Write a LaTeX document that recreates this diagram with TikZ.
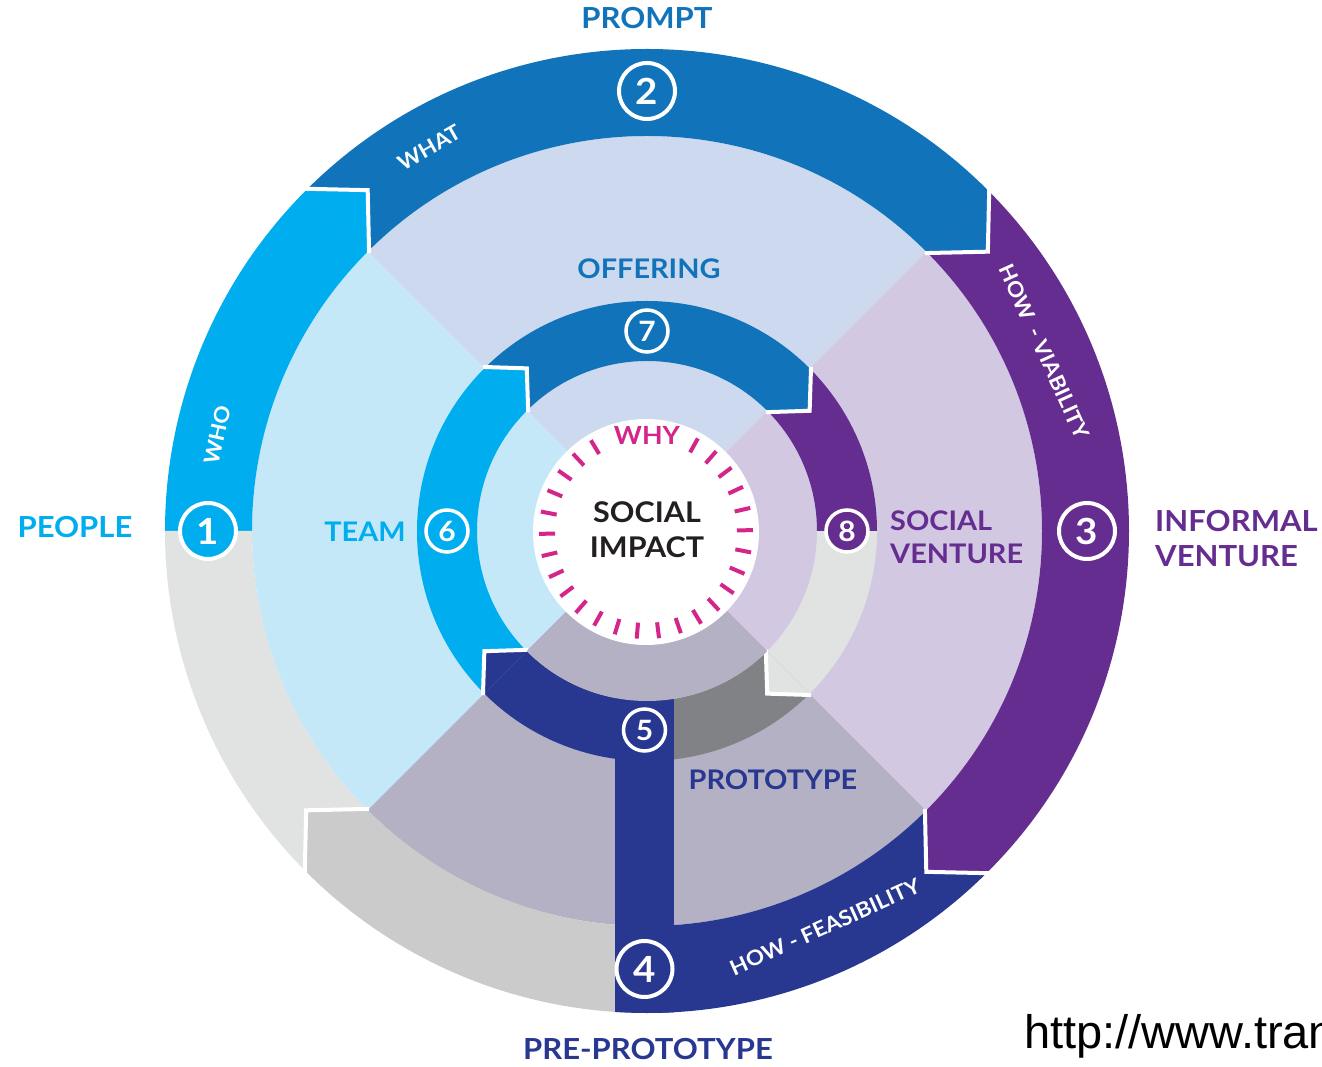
\documentclass[tikz,border=0pt]{standalone}
\usepackage{fontspec}
\usetikzlibrary{calc}
\setmainfont{Lato}[FakeStretch=1.07]
\newfontfamily\urlfont{Liberation Sans}
\definecolor{ccyan}{HTML}{00AEEF}
\definecolor{cblue}{HTML}{1174BB}
\definecolor{cpurple}{HTML}{662D91}
\definecolor{cnavy}{HTML}{283891}
\definecolor{cgreyL}{HTML}{E1E3E3}
\definecolor{cgreyD}{HTML}{CBCBCB}
\definecolor{cgreyM}{HTML}{808285}
\definecolor{qleft}{HTML}{C5E8F8}
\definecolor{qtop}{HTML}{CDD9EE}
\definecolor{qright}{HTML}{D2C8E2}
\definecolor{qbot}{HTML}{B3B1C3}
\definecolor{cmag}{HTML}{D4268A}
\definecolor{ctext}{HTML}{231F20}
\newcommand\ringsec[5]{\fill[#1] (#2:#5) arc[start angle=#2,end angle=#3,radius=#5] -- (#3:#4) arc[start angle=#3,end angle=#2,radius=#4] -- cycle;}
\newcommand\quadsec[4]{\fill[#1] (0,0) -- (#2:#4) arc[start angle=#2,end angle=#3,radius=#4] -- cycle;}
\tikzset{
  bignum/.style={circle, draw=white, line width=4pt, minimum size=56pt, inner sep=0pt, text=white, font=\bfseries\fontsize{36}{36}\selectfont},
  smallnum/.style={circle, draw=white, line width=3.5pt, minimum size=42pt, inner sep=0pt, text=white, font=\bfseries\fontsize{28}{28}\selectfont},
  biglbl/.style={font=\bfseries\fontsize{29}{35}\selectfont, inner sep=0pt},
  midlbl/.style={font=\bfseries\fontsize{27}{33}\selectfont, inner sep=0pt},
  ringlbl/.style={text=white, font=\bfseries\fontsize{21}{21}\selectfont, inner sep=0pt},
  stepline/.style={white, line width=4pt},
  tick/.style={cmag, line width=4pt},
}
\begin{document}
\begin{tikzpicture}[x=1pt,y=1pt]
\useasboundingbox (-647,-536) rectangle (675,531);
% quadrant fills
\quadsec{qtop}{45}{135}{395pt}
\quadsec{qleft}{135}{225}{395pt}
\quadsec{qbot}{225}{315}{395pt}
\quadsec{qright}{-45}{45}{395pt}
% outer ring
\ringsec{cblue}{45}{135}{395pt}{482pt}
\ringsec{ccyan}{135}{180}{395pt}{482pt}
\ringsec{cgreyL}{180}{225}{395pt}{482pt}
\ringsec{cgreyD}{225}{270}{395pt}{482pt}
\ringsec{cnavy}{270}{315}{395pt}{482pt}
\ringsec{cpurple}{-45}{45}{395pt}{482pt}
% outer caps
\fill[ccyan] (135:482pt) -- (-279.31,340.83) coordinate (oq1) -- (135:395pt) -- cycle;
\fill[cblue] (45:482pt) -- (340.83,279.31) coordinate (oq2) -- (45:395pt) -- cycle;
\fill[cpurple] (-45:482pt) -- (279.31,-340.83) coordinate (oq3) -- (-45:395pt) -- cycle;
\fill[cgreyD] (225:482pt) -- (-340.83,-279.31) coordinate (oq4) -- (225:395pt) -- cycle;
\draw[stepline] (135:484pt) -- (oq1) -- (135:393pt);
\draw[stepline] (45:484pt) -- (oq2) -- (45:393pt);
\draw[stepline] (-45:484pt) -- (oq3) -- (-45:393pt);
\draw[stepline] (225:484pt) -- (oq4) -- (225:393pt);
% inner ring
\ringsec{cblue}{45}{135}{170pt}{230pt}
\ringsec{ccyan}{135}{225}{170pt}{230pt}
\ringsec{cnavy}{225}{270}{170pt}{230pt}
\ringsec{cgreyM}{270}{315}{170pt}{230pt}
\ringsec{cgreyL}{-45}{0}{170pt}{230pt}
\ringsec{cpurple}{0}{45}{170pt}{230pt}
% inner caps
\fill[ccyan] (135:230pt) -- (-120.21,162.63) coordinate (iq1) -- (135:170pt) -- cycle;
\fill[cblue] (45:230pt) -- (162.63,120.21) coordinate (iq2) -- (45:170pt) -- cycle;
\fill[cgreyL] (-45:230pt) -- (120.21,-162.63) coordinate (iq3) -- (-45:170pt) -- cycle;
\fill[cnavy] (225:230pt) -- (-162.63,-120.21) coordinate (iq4) -- (225:170pt) -- cycle;
\draw[stepline] (135:232pt) -- (iq1) -- (135:168pt);
\draw[stepline] (45:232pt) -- (iq2) -- (45:168pt);
\draw[stepline] (-45:232pt) -- (iq3) -- (-45:168pt);
\draw[stepline] (225:232pt) -- (iq4) -- (225:168pt);
% navy bar
\begin{scope}
\clip (0,0) circle[radius=482pt];
\fill[cnavy] (-32,-150) rectangle (27,-490);
\end{scope}
\quadsec{qbot}{225}{315}{170pt}
% centre
\coordinate (ctr) at (-1,-1);
\fill[white] (ctr) circle[radius=113pt];
\foreach \k in {0,...,5,10,11,...,29}{
  \draw[tick] ($(ctr)+({1+12*\k}:91pt)$) -- ($(ctr)+({1+12*\k}:107pt)$);
}
\node[text=cmag, font=\bfseries\fontsize{25}{25}\selectfont, inner sep=0pt] (why) at (0,96) {WHY};
\node[text=ctext, align=center, font=\bfseries\fontsize{28.5}{35}\selectfont, inner sep=0pt] (impact) at (0,1) {SOCIAL\\IMPACT};
% number circles
\node[bignum, fill=ccyan] (c1) at (180:439pt) {1};
\node[bignum, fill=cblue] (c2) at (90:440pt) {2};
\node[bignum, fill=cpurple] (c3) at (0:440pt) {3};
\node[bignum, fill=cnavy] (c4) at (-2.5,-438) {4};
\node[smallnum, fill=cnavy] (c5) at (-2.5,-199) {5};
\node[smallnum, fill=ccyan] (c6) at (180:200pt) {6};
\node[smallnum, fill=cblue] (c7) at (90:200pt) {7};
\node[smallnum, fill=cpurple] (c8) at (0:200pt) {8};
% ring labels
\node[ringlbl, rotate=29.6] (what) at (119.6:441pt) {WHAT};
\node[ringlbl, rotate=77.4] (who) at (167.4:440pt) {WHO};
\node[ringlbl, rotate=-65.7] (viab) at (24.3:436pt) {HOW~ - VIABILITY};
\node[ringlbl, rotate=24.2] (feas) at (-65.8:434pt) {HOW - FEASIBILITY};
% outer labels
\node[biglbl, text=ccyan] (people) at (-572,4) {PEOPLE};
\node[biglbl, text=cblue] (prompt) at (0,513) {PROMPT};
\node[biglbl, text=cpurple, anchor=west, align=left] (informal) at (508,-7.5) {INFORMAL\\VENTURE};
\node[biglbl, text=cnavy] (preproto) at (1,-518) {PRE-PROTOTYPE};
% middle labels
\node[midlbl, text=cblue] (offering) at (2,262) {OFFERING};
\node[midlbl, text=ccyan] (team) at (-282,-1) {TEAM};
\node[midlbl, text=cpurple, anchor=west, align=left] (sventure) at (243,-6.5) {SOCIAL\\VENTURE};
\node[midlbl, text=cnavy] (proto) at (126,-249) {PROTOTYPE};
% url
\node[anchor=base west, inner sep=0pt, font=\urlfont\fontsize{47}{47}\selectfont] (url) at (377,-517) {http://www.tran};
\end{tikzpicture}
\end{document}
